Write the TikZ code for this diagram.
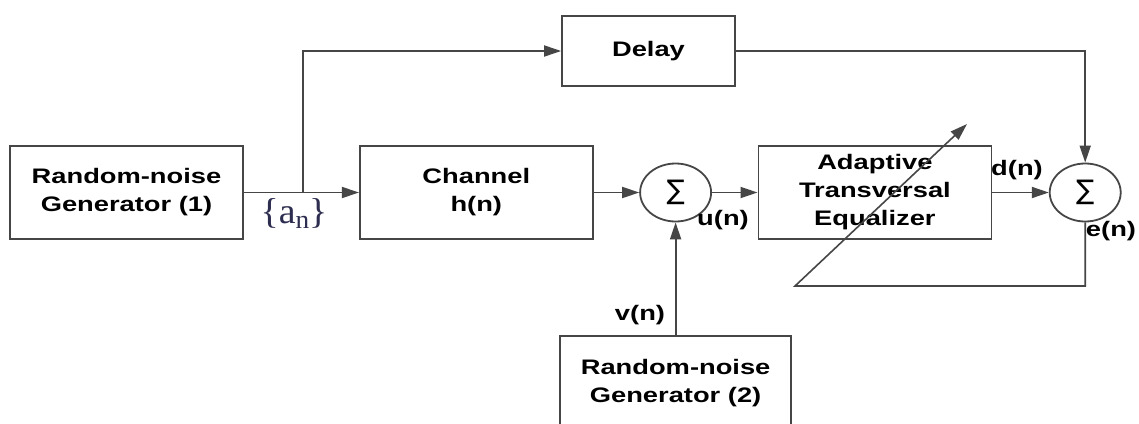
\documentclass[tikz,border=0pt]{standalone}
\usepackage{fontspec}
\usepackage{tikz}
\usetikzlibrary{arrows.meta,positioning,shapes.geometric,calc}

\newfontfamily\blockfont[FakeStretch=1.3]{Liberation Sans}
\newfontfamily\serieffont[FakeStretch=1.05]{Liberation Serif}
\newfontfamily\symfont{DejaVu Sans}
\definecolor{wire}{RGB}{70,70,70}
\definecolor{seqclr}{RGB}{45,45,80}

\begin{document}
\begin{tikzpicture}[
    x=1pt, y=1pt,
    block/.style={rectangle, draw=wire, line width=1.8pt, minimum width=233pt, minimum height=93pt, align=center, font=\blockfont\bfseries\fontsize{21}{28}\selectfont},
    sumnode/.style={ellipse, draw=wire, line width=1.8pt, minimum width=71pt, minimum height=58pt, inner sep=0pt, font=\symfont\fontsize{27}{27}\selectfont},
    lbl/.style={inner sep=0pt, font=\blockfont\bfseries\fontsize{21}{21}\selectfont},
    arrow/.style={-{Triangle[length=17pt, width=11pt]}, draw=wire, line width=1.8pt}
]
    \useasboundingbox[fill=white] (0,0) rectangle (1139,-423);

    % Source
    \node[block] (gen1) at (126.5,-192.5) {Random-noise\\Generator (1)};

    % Channel
    \node[block, right=115pt of gen1] (chan) {Channel\\h(n)};

    % Noise adder
    \node[sumnode, right=45.5pt of chan] (sum1) {∑};

    % Equalizer
    \node[block, right=45.5pt of sum1] (eq) {Adaptive\\Transversal\\Equalizer};

    % Error adder
    \node[sumnode, right=56.5pt of eq] (sum2) {∑};

    % Delay
    \node[block, minimum width=173pt, minimum height=70pt] (delay) at (648.5,-51) {Delay};

    % Noise source
    \node[block, minimum width=231pt, below=113pt of sum1] (gen2) {Random-noise\\Generator (2)};

    % Labels
    \node[inner sep=0pt, text=seqclr, font=\serieffont\fontsize{36}{36}\selectfont] (seq) at (294,-214) {\{a\raisebox{-5pt}{\fontsize{26}{26}\selectfont n}\}};
    \node[lbl] (un) at (723,-220) {u(n)};
    \node[lbl] (vn) at (640,-315) {v(n)};
    \node[lbl] (dn) at (1017,-170) {d(n)};
    \node[lbl] (en) at (1111,-231) {e(n)};

    % Adaptation path
    \coordinate (split) at ($(gen1.east)+(59,0)$);
    \coordinate (tail) at (795,-286);
    \coordinate (tip) at (967,-124);

    % Arrows
    \draw[arrow] (gen1) -- (chan);
    \draw[arrow] (split) |- (delay);
    \draw[arrow] (chan) -- (sum1);
    \draw[arrow] (sum1) -- (eq);
    \draw[arrow] (gen2) -- (sum1);
    \draw[arrow] (eq) -- (sum2);
    \draw[arrow] (delay) -| (sum2);
    \draw[arrow, line width=1.6pt] (sum2.south) |- (tail) -- (tip);

\end{tikzpicture}
\end{document}
